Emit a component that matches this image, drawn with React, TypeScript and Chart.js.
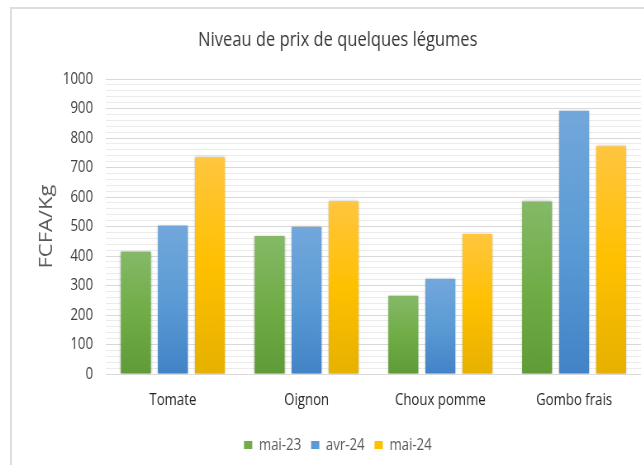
import React, { useEffect, useRef } from "react";
import { Chart, registerables } from "chart.js";

Chart.register(...registerables);

const categories = ["Tomate", "Oignon", "Choux pomme", "Gombo frais"];
const seriesLabels = ["mai-23", "avr-24", "mai-24"];
const mai23Values = [415, 468, 265, 585];
const avr24Values = [503, 498, 323, 892];
const mai24Values = [735, 586, 475, 772];
const yTicks = [0, 100, 200, 300, 400, 500, 600, 700, 800, 900, 1000];

const baseColors = ["#70ad47", "#5b9bd5", "#ffc000"];
const lightColors = ["#85b967", "#72a7db", "#ffc63f"];
const darkColors = ["#5f9c37", "#4283c7", "#e6b100"];

const FONT = '"Open Sans", "Liberation Sans", sans-serif';
// the reference picture is horizontally condensed; draw wide then condense
const SX = 0.826;
const CANVAS_W = 818;
const CANVAS_H = 465;

function gradientFor(idx: number) {
  return (ctx: any) => {
    const chart = ctx.chart;
    const area = chart.chartArea;
    const yScale = chart.scales && chart.scales.y;
    if (!area || !yScale || ctx.type !== "data") return baseColors[idx];
    const v = ctx.parsed ? ctx.parsed.y : ctx.raw;
    const top = yScale.getPixelForValue(v);
    const bottom = yScale.getPixelForValue(0);
    if (!isFinite(top) || !isFinite(bottom) || top === bottom) return baseColors[idx];
    const g = chart.ctx.createLinearGradient(0, top, 0, bottom);
    g.addColorStop(0, lightColors[idx]);
    g.addColorStop(0.5, baseColors[idx]);
    g.addColorStop(1, darkColors[idx]);
    return g;
  };
}

const shadowPlugin = {
  id: "barShadow",
  beforeDatasetsDraw(chart: any) {
    const c = chart.ctx;
    c.save();
    c.shadowColor = "rgba(0,0,0,0.28)";
    c.shadowBlur = 3;
    c.shadowOffsetX = 0;
    c.shadowOffsetY = 0;
  },
  afterDatasetsDraw(chart: any) {
    chart.ctx.restore();
  },
};

export default function App() {
  const ref = useRef<HTMLCanvasElement | null>(null);

  useEffect(() => {
    if (!ref.current) return;
    const seriesValues = [mai23Values, avr24Values, mai24Values];
    const chart = new Chart(ref.current, {
      type: "bar",
      data: {
        labels: categories,
        datasets: seriesLabels.map((label, i) => ({
          label,
          data: seriesValues[i],
          backgroundColor: gradientFor(i),
          borderWidth: 0,
          categoryPercentage: 0.83,
          barPercentage: 0.81,
        })),
      },
      plugins: [shadowPlugin],
      options: {
        responsive: false,
        animation: false,
        devicePixelRatio: 1,
        layout: { padding: { left: 42, right: 42, top: 0, bottom: 2 } },
        plugins: {
          title: {
            display: true,
            text: "Niveau de prix de quelques légumes",
            color: "#363636",
            font: { family: FONT, size: 20, weight: "normal", lineHeight: 1.2 },
            padding: { top: 28, bottom: 27 },
          },
          legend: {
            display: true,
            position: "bottom",
            labels: {
              font: { family: FONT, size: 16 },
              color: "#595959",
              boxWidth: 10,
              boxHeight: 8,
              padding: 12,
              generateLabels: (ch: any) =>
                ch.data.datasets.map((ds: any, i: number) => ({
                  text: ds.label,
                  fillStyle: baseColors[i],
                  strokeStyle: baseColors[i],
                  lineWidth: 0,
                  hidden: false,
                  datasetIndex: i,
                  fontColor: "#595959",
                })),
            },
          },
          tooltip: { enabled: false },
        },
        scales: {
          x: {
            grid: { display: false, drawTicks: false },
            border: { display: false },
            ticks: {
              color: "#262626",
              font: { family: FONT, size: 16 },
              padding: 17,
              maxRotation: 0,
              autoSkip: false,
            },
            afterFit: (s: any) => {
              s.height = 51;
            },
          },
          y: {
            min: 0,
            max: 1000,
            border: { display: false },
            grid: {
              drawTicks: false,
              color: (c: any) =>
                c.tick && yTicks.includes(c.tick.value) ? "#d9d9d9" : "#ececec",
              lineWidth: 1,
            },
            ticks: {
              stepSize: 20,
              maxTicksLimit: 100,
              autoSkip: false,
              padding: 15.7,
              color: "#404040",
              font: { family: FONT, size: 16 },
              callback: (v: any) => (yTicks.includes(Number(v)) ? String(v) : ""),
            },
            title: {
              display: true,
              text: "FCFA/Kg",
              color: "#595959",
              font: { family: FONT, size: 22, lineHeight: 1.2 },
              padding: { top: 1.7, bottom: 0 },
            },
            afterFit: (s: any) => {
              s.width = 86.3;
            },
          },
        },
      },
    } as any);
    return () => chart.destroy();
  }, []);

  return (
    <div
      style={{
        position: "fixed",
        left: 0,
        top: 0,
        width: 644,
        height: 465,
        overflow: "hidden",
        background: "#ffffff",
      }}
    >
      <div
        style={{
          position: "absolute",
          left: 10,
          top: 7,
          width: 1000,
          height: 1000,
          border: "2px solid #dedede",
          boxSizing: "border-box",
        }}
      />
      <canvas
        ref={ref}
        width={CANVAS_W}
        height={CANVAS_H}
        style={{
          position: "absolute",
          left: 0,
          top: 0,
          width: CANVAS_W,
          height: CANVAS_H,
          transform: `scaleX(${SX})`,
          transformOrigin: "0 0",
        }}
      />
    </div>
  );
}
